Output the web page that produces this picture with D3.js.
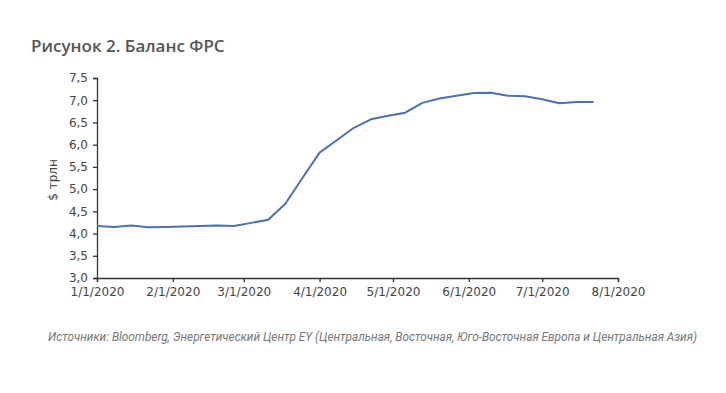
<!DOCTYPE html>
<html>
<head>
<meta charset="utf-8">
<script src="https://cdn.jsdelivr.net/npm/d3@7"></script>
<style>
  html, body { margin: 0; padding: 0; background: #fff; }
  svg { display: block; }
</style>
</head>
<body>
<svg id="chart" width="726" height="393"></svg>
<script>
// ---- data ----
const dates = [
  "2020-01-01","2020-01-08","2020-01-15","2020-01-22","2020-01-29",
  "2020-02-05","2020-02-12","2020-02-19","2020-02-26","2020-03-04",
  "2020-03-11","2020-03-18","2020-03-25","2020-04-01","2020-04-08",
  "2020-04-15","2020-04-22","2020-04-29","2020-05-06","2020-05-13",
  "2020-05-20","2020-05-27","2020-06-03","2020-06-10","2020-06-17",
  "2020-06-24","2020-07-01","2020-07-08","2020-07-15","2020-07-22"
];
const balance = [
  4.17, 4.15, 4.18, 4.14, 4.15,
  4.16, 4.17, 4.18, 4.17, 4.24,
  4.31, 4.67, 5.25, 5.82, 6.10,
  6.38, 6.57, 6.65, 6.72, 6.94,
  7.04, 7.10, 7.16, 7.17, 7.10,
  7.09, 7.02, 6.93, 6.96, 6.96
];
const yTicks = [3.0, 3.5, 4.0, 4.5, 5.0, 5.5, 6.0, 6.5, 7.0, 7.5];
const xTicks = ["2020-01-01","2020-02-01","2020-03-01","2020-04-01",
                "2020-05-01","2020-06-01","2020-07-01","2020-08-01"];
const titleText = "Рисунок 2. Баланс ФРС";
const yAxisTitle = "$ трлн";
const sourceText = "Источники: Bloomberg, Энергетический Центр EY (Центральная, Восточная, Юго-Восточная Европа и Центральная Азия)";

// ---- layout ----
const svg = d3.select("#chart");
const parse = d3.utcParse("%Y-%m-%d");
const fmtX = d => (d.getUTCMonth() + 1) + "/" + d.getUTCDate() + "/" + d.getUTCFullYear();
const fmtY = d => d3.format(".1f")(d).replace(".", ",");

const x = d3.scaleUtc()
  .domain([parse(xTicks[0]), parse(xTicks[xTicks.length - 1])])
  .range([97, 618]);
const y = d3.scaleLinear().domain([3.0, 7.5]).range([278, 78]);

const axisColor = "#333";
const textColor = "#444";

// title
svg.append("text")
  .attr("x", 31).attr("y", 52)
  .attr("font-family", "'Open Sans', sans-serif")
  .attr("font-weight", 600)
  .attr("font-size", 17)
  .attr("fill", "#555")
  .text(titleText);

// y axis
const yAxis = svg.append("g")
  .attr("transform", "translate(97,0)")
  .call(d3.axisLeft(y).tickValues(yTicks).tickFormat(fmtY).tickSizeOuter(0).tickSize(4).tickPadding(5));
// x axis
const xAxis = svg.append("g")
  .attr("transform", "translate(0,278)")
  .call(d3.axisBottom(x).tickValues(xTicks.map(parse)).tickFormat(fmtX).tickSizeOuter(0).tickSize(4).tickPadding(5));

[yAxis, xAxis].forEach(g => {
  g.selectAll("path, line").attr("stroke", axisColor).attr("stroke-width", 1.3);
  g.selectAll("text")
    .attr("font-family", "'DejaVu Sans', Verdana, sans-serif")
    .attr("font-size", 12)
    .attr("fill", textColor);
});

// y axis title
svg.append("text")
  .attr("transform", "translate(57,180) rotate(-90)")
  .attr("text-anchor", "middle")
  .attr("font-family", "'DejaVu Sans', Verdana, sans-serif")
  .attr("font-size", 12)
  .attr("fill", textColor)
  .text(yAxisTitle);

// line
const series = dates.map((d, i) => ({ date: parse(d), value: balance[i] }));
svg.append("path")
  .datum(series)
  .attr("fill", "none")
  .attr("stroke", "#4a70b6")
  .attr("stroke-width", 2)
  .attr("stroke-linejoin", "round")
  .attr("d", d3.line().x(d => x(d.date)).y(d => y(d.value)));

// source
svg.append("text")
  .attr("x", 48).attr("y", 341)
  .attr("font-family", "'Roboto', 'Liberation Sans', sans-serif")
  .attr("font-style", "italic")
  .attr("font-size", 12)
  .attr("fill", "#777")
  .attr("textLength", 649)
  .attr("lengthAdjust", "spacingAndGlyphs")
  .text(sourceText);
</script>
</body>
</html>
